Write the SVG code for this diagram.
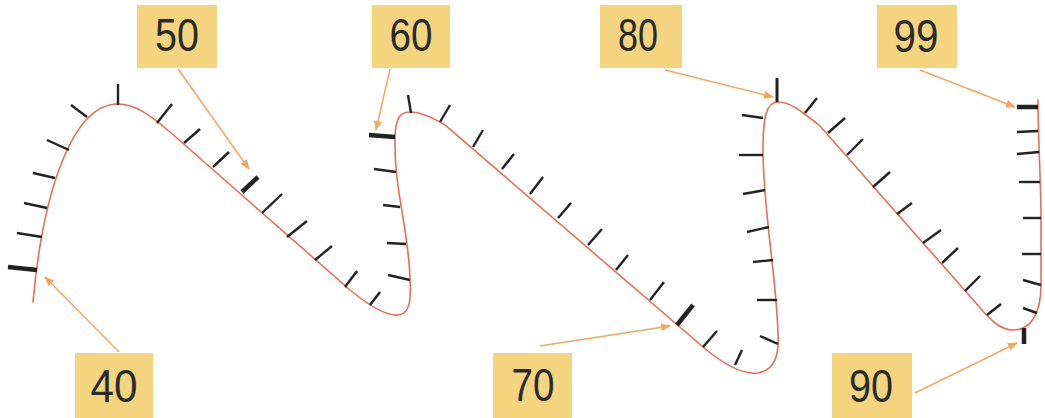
<svg xmlns="http://www.w3.org/2000/svg" width="1045" height="418" viewBox="0 0 1045 418">
<style>
.box{fill:#f4d47e}
.lbl{font-family:"Liberation Sans",Arial,sans-serif;font-size:46px;fill:#2a2a2a;text-anchor:middle}
.curve{fill:none;stroke:#e0705a;stroke-width:1.6;stroke-linecap:round}
.tick{stroke:#222;stroke-width:2.4;stroke-linecap:butt}
.bold{stroke:#222;stroke-width:4.5}
.arr{fill:none;stroke:#f0a860;stroke-width:1.5;marker-end:url(#ah)}
</style>
<defs>
<marker id="ah" viewBox="0 0 10 10" refX="9" refY="5" markerWidth="10" markerHeight="10" markerUnits="userSpaceOnUse" orient="auto">
<path d="M0,1 L10,5 L0,9 Z" fill="#f0a860"/>
</marker>
</defs>
<rect width="1045" height="418" fill="#fff"/>
<g id="numberline">
<path class="curve" d="M33,302 C42,200 70,104 118,104 C135,104 150,115 170,132 L350,290 C372,308 388,316 398,315 C410,314 411,300 410,280 C409,230 394,190 395,140 C395,118 400,112 410,112 C420,112 430,116 445,125 L703,347 C722,363 742,375 758,373 C775,370 779,355 778,335 C777,280 763,210 763,150 C763,118 766,102 778,102 C790,102 800,110 820,126 L975,302 C990,320 1000,330 1013,330 C1030,330 1041,315 1041,285 L1041,220 C1041,180 1038,140 1038,100"/>
<g class="tick">
<line x1="17" y1="233" x2="42" y2="237"/>
<line x1="24" y1="203" x2="47" y2="208"/>
<line x1="33" y1="173" x2="55" y2="178"/>
<line x1="47" y1="140" x2="69" y2="150"/>
<line x1="71" y1="105" x2="87" y2="117"/>
<line x1="118" y1="84" x2="118" y2="105"/>
<line x1="172" y1="104" x2="157" y2="123"/>
<line x1="200" y1="129" x2="184" y2="143"/>
<line x1="229" y1="152" x2="213" y2="167"/>
<line x1="282" y1="194" x2="262" y2="213"/>
<line x1="307" y1="221" x2="287" y2="237"/>
<line x1="332" y1="246" x2="315" y2="260"/>
<line x1="357" y1="271" x2="345" y2="287"/>
<line x1="380" y1="292" x2="370" y2="305"/>
<line x1="388" y1="275" x2="410" y2="280"/>
<line x1="387" y1="243" x2="406" y2="244"/>
<line x1="383" y1="205" x2="400" y2="207"/>
<line x1="374" y1="169" x2="396" y2="172"/>
<line x1="408" y1="95" x2="411" y2="113"/>
<line x1="450" y1="105" x2="440" y2="122"/>
<line x1="483" y1="130" x2="473" y2="147"/>
<line x1="514" y1="154" x2="502" y2="169"/>
<line x1="543" y1="177" x2="530" y2="194"/>
<line x1="571" y1="203" x2="558" y2="218"/>
<line x1="602" y1="229" x2="588" y2="245"/>
<line x1="628" y1="255" x2="616" y2="270"/>
<line x1="664" y1="282" x2="650" y2="300"/>
<line x1="717" y1="331" x2="703" y2="347"/>
<line x1="742" y1="350" x2="735" y2="365"/>
<line x1="760" y1="336" x2="778" y2="344"/>
<line x1="757" y1="300" x2="777" y2="300"/>
<line x1="753" y1="262" x2="773" y2="260"/>
<line x1="747" y1="232" x2="769" y2="227"/>
<line x1="743" y1="194" x2="765" y2="190"/>
<line x1="739" y1="155" x2="763" y2="155"/>
<line x1="742" y1="115" x2="763" y2="118"/>
<line x1="777" y1="78" x2="777" y2="102" stroke-width="3"/>
<line x1="817" y1="98" x2="805" y2="113"/>
<line x1="845" y1="118" x2="828" y2="133"/>
<line x1="863" y1="139" x2="847" y2="155"/>
<line x1="890" y1="172" x2="873" y2="187"/>
<line x1="912" y1="203" x2="897" y2="214"/>
<line x1="941" y1="230" x2="923" y2="243"/>
<line x1="958" y1="248" x2="942" y2="263"/>
<line x1="980" y1="276" x2="965" y2="291"/>
<line x1="1001" y1="304" x2="987" y2="315"/>
<line x1="1023" y1="308" x2="1037" y2="313"/>
<line x1="1023" y1="280" x2="1041" y2="285"/>
<line x1="1022" y1="254" x2="1041" y2="254"/>
<line x1="1023" y1="218" x2="1041" y2="218"/>
<line x1="1019" y1="182" x2="1040" y2="182"/>
<line x1="1017" y1="154" x2="1039" y2="152"/>
<line x1="1017" y1="132" x2="1038" y2="131"/>
</g>
<g class="bold">
<line x1="8" y1="267" x2="37" y2="270"/>
<line x1="258" y1="177" x2="242" y2="192"/>
<line x1="369" y1="135" x2="395" y2="137"/>
<line x1="693" y1="305" x2="677" y2="325"/>
<line x1="1024" y1="328" x2="1024" y2="344"/>
<line x1="1017" y1="107" x2="1038" y2="107"/>
</g>
</g>
<g id="connectors">
<path class="arr" d="M178,69 L249,169"/>
<path class="arr" d="M119,352 L45,277"/>
<path class="arr" d="M390,69 L376,130"/>
<path class="arr" d="M665,70 L773,97"/>
<path class="arr" d="M920,70 L1015,107"/>
<path class="arr" d="M540,346 L670,326"/>
<path class="arr" d="M915,393 L1017,343"/>
</g>
<g id="n50"><rect class="box" x="137" y="5" width="80" height="63"/><text class="lbl" x="177" y="51" textLength="44" lengthAdjust="spacingAndGlyphs">50</text></g>
<g id="n60"><rect class="box" x="372" y="5" width="78" height="63"/><text class="lbl" x="411" y="51" textLength="43" lengthAdjust="spacingAndGlyphs">60</text></g>
<g id="n80"><rect class="box" x="600" y="5" width="82" height="63"/><text class="lbl" x="638" y="51" textLength="40" lengthAdjust="spacingAndGlyphs">80</text></g>
<g id="n99"><rect class="box" x="877" y="5" width="80" height="63"/><text class="lbl" x="916" y="52" textLength="45" lengthAdjust="spacingAndGlyphs">99</text></g>
<g id="n40"><rect class="box" x="75" y="353" width="78" height="65"/><text class="lbl" x="114" y="402" textLength="47" lengthAdjust="spacingAndGlyphs">40</text></g>
<g id="n70"><rect class="box" x="493" y="353" width="79" height="65"/><text class="lbl" x="533" y="401" textLength="43" lengthAdjust="spacingAndGlyphs">70</text></g>
<g id="n90"><rect class="box" x="832" y="353" width="80" height="65"/><text class="lbl" x="871" y="402" textLength="44" lengthAdjust="spacingAndGlyphs">90</text></g>
</svg>
